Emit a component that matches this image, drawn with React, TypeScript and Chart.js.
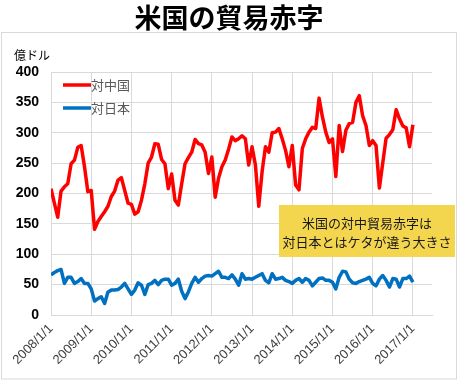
import React, { useEffect, useRef } from "react";
import { Chart, registerables } from "chart.js";

Chart.register(...registerables);

const TITLE = "米国の貿易赤字";
const Y_UNIT = "億ドル";
const NOTE_LINES = ["米国の対中貿易赤字は", "対日本とはケタが違う大きさ"];
const SERIES_NAMES = ["対中国", "対日本"];
const TICK_LABELS = [
  "2008/1/1", "2009/1/1", "2010/1/1", "2011/1/1", "2012/1/1",
  "2013/1/1", "2014/1/1", "2015/1/1", "2016/1/1", "2017/1/1",
];
// monthly values from 2008/1 to 2017/1
const CHINA = [
  208, 184, 161, 204, 211, 216, 249, 255, 276, 279, 244, 203,
  205, 141, 154, 162, 170, 179, 195, 204, 222, 226, 205, 184,
  182, 166, 170, 189, 216, 250, 260, 282, 281, 256, 249, 208,
  232, 189, 181, 216, 249, 259, 268, 289, 282, 280, 268, 233,
  260, 194, 225, 244, 255, 273, 293, 287, 290, 295, 290, 247,
  277, 247, 179, 236, 277, 268, 300, 301, 307, 290, 271, 244,
  279, 214, 206, 274, 290, 301, 309, 307, 357, 326, 301, 284,
  290, 228, 312, 269, 304, 315, 317, 350, 361, 328, 312, 279,
  287, 279, 209, 250, 291, 297, 305, 338, 323, 311, 308, 277,
  313,
];
const JAPAN = [
  66, 70, 73, 75, 52, 62, 62, 52, 55, 60, 52, 52,
  43, 23, 27, 30, 19, 38, 41, 41, 42, 46, 52, 43,
  34, 41, 53, 49, 34, 50, 52, 57, 50, 57, 59, 59,
  49, 52, 59, 39, 27, 38, 52, 62, 54, 60, 64, 65,
  64, 68, 72, 62, 62, 60, 66, 59, 49, 68, 59, 60,
  59, 62, 65, 68, 57, 53, 68, 59, 60, 62, 57, 55,
  52, 57, 60, 54, 60, 57, 48, 54, 60, 61, 57, 57,
  54, 43, 62, 72, 71, 59, 53, 52, 55, 57, 59, 62,
  52, 48, 59, 65, 57, 46, 60, 59, 46, 60, 60, 64,
  54,
];

const COLORS = ["#FF0000", "#0070C0"];
const JP = '"Noto Sans CJK JP", "Noto Sans", sans-serif';

export default function App() {
  const ref = useRef<HTMLCanvasElement>(null);
  useEffect(() => {
    document.body.style.margin = "0";
    const canvas = ref.current!;
    const deco = {
      id: "deco",
      beforeDraw(chart: any) {
        const ctx = chart.ctx;
        ctx.save();
        ctx.fillStyle = "#fff";
        ctx.fillRect(0, 0, chart.width, chart.height);
        ctx.strokeStyle = "#d9d9d9";
        ctx.lineWidth = 1;
        ctx.strokeRect(1.5, 32.5, 455, 346.5);
        ctx.fillStyle = "#000";
        ctx.font = `bold 27px ${JP}`;
        ctx.textAlign = "center";
        ctx.textBaseline = "middle";
        ctx.fillText(TITLE, 229, 18);
        ctx.font = `12px ${JP}`;
        ctx.textAlign = "left";
        ctx.fillText(Y_UNIT, 14, 55);
        ctx.restore();
      },
      afterDraw(chart: any) {
        const ctx = chart.ctx;
        ctx.save();
        // legend
        SERIES_NAMES.forEach((name, i) => {
          const y = 85 + i * 23;
          ctx.strokeStyle = COLORS[i];
          ctx.lineWidth = 3.5;
          ctx.beginPath();
          ctx.moveTo(63, y);
          ctx.lineTo(91, y);
          ctx.stroke();
          ctx.fillStyle = "#595959";
          ctx.font = `13px ${JP}`;
          ctx.textAlign = "left";
          ctx.textBaseline = "middle";
          ctx.fillText(name, 91, y);
        });
        // note box
        ctx.fillStyle = "#F3D54E";
        ctx.fillRect(279, 205, 176, 52);
        ctx.fillStyle = "#1a1a1a";
        ctx.font = `13px ${JP}`;
        ctx.textAlign = "center";
        ctx.textBaseline = "middle";
        ctx.fillText(NOTE_LINES[0], 367, 223);
        ctx.fillText(NOTE_LINES[1], 367, 242);
        ctx.restore();
      },
    };
    const chart = new Chart(canvas, {
      type: "line",
      data: {
        datasets: [CHINA, JAPAN].map((vals, i) => ({
          label: SERIES_NAMES[i],
          data: vals.map((v, j) => ({ x: j, y: v })),
          borderColor: COLORS[i],
          backgroundColor: COLORS[i],
          borderWidth: 3.5,
          pointRadius: 0,
          tension: 0,
          borderJoinStyle: "round" as const,
        })),
      },
      options: {
        animation: false,
        responsive: false,
        maintainAspectRatio: false,
        layout: { padding: { top: 72, left: 0, right: 27, bottom: 3 } },
        plugins: { legend: { display: false }, tooltip: { enabled: false }, title: { display: false } },
        scales: {
          x: {
            type: "linear",
            min: 0,
            max: 113.7,
            afterBuildTicks(scale: any) {
              scale.ticks = TICK_LABELS.map((_, i) => ({ value: i * 12 }));
            },
            afterFit(scale: any) {
              scale.height = 64;
            },
            ticks: {
              autoSkip: false,
              maxRotation: 45,
              minRotation: 45,
              padding: 6,
              color: "#404040",
              font: { size: 13, family: '"Liberation Sans", Arial, sans-serif' },
              callback: (v: any) => TICK_LABELS[Math.round(Number(v) / 12)] ?? "",
            },
            grid: { color: "#d9d9d9", drawTicks: false },
            border: { color: "#d9d9d9" },
          },
          y: {
            min: 0,
            max: 400,
            afterFit(scale: any) {
              scale.width = 51;
            },
            ticks: {
              stepSize: 50,
              padding: 12,
              color: "#000",
              font: { size: 14, weight: "bold", family: '"Liberation Sans", Arial, sans-serif' },
            },
            grid: { color: "#d9d9d9", drawTicks: false },
            border: { color: "#d9d9d9" },
          },
        },
      },
      plugins: [deco],
    });
    return () => chart.destroy();
  }, []);
  return (
    <div style={{ width: 459, height: 382 }}>
      <canvas ref={ref} width={459} height={382} style={{ display: "block" }} />
    </div>
  );
}
